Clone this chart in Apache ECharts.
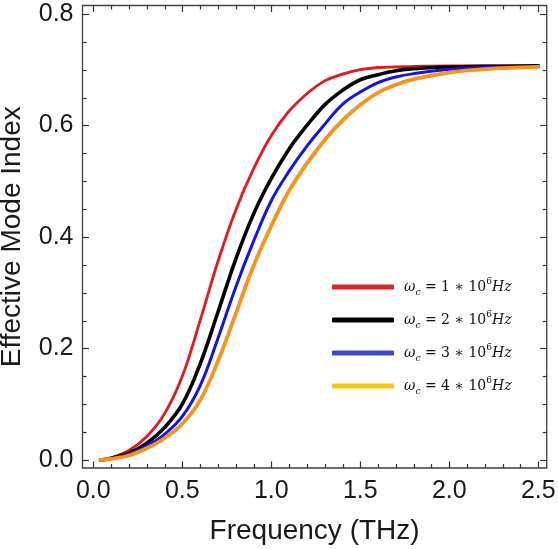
<!DOCTYPE html>
<html>
<head>
<meta charset="utf-8">
<script src="https://cdn.jsdelivr.net/npm/echarts@6/dist/echarts.min.js"></script>
<style>
html,body{margin:0;padding:0;background:#fff;}
#chart{width:558px;height:549px;}
</style>
</head>
<body>
<div id="chart"></div>
<script>
// ---- data ----
var freq  = [0.04,0.1,0.2,0.3,0.4,0.5,0.6,0.7,0.8,0.9,1.0,1.1,1.2,1.3,1.4,1.5,1.6,1.7,1.8,2.0,2.2,2.5];
var wc1   = [0.000,0.004,0.017,0.042,0.083,0.150,0.250,0.356,0.448,0.522,0.582,0.626,0.657,0.680,0.692,0.700,0.704,0.705,0.706,0.707,0.707,0.707];
var wc2   = [0.000,0.003,0.012,0.030,0.058,0.100,0.172,0.265,0.360,0.441,0.505,0.558,0.600,0.637,0.663,0.682,0.691,0.698,0.702,0.705,0.706,0.707];
var wc3   = [0.000,0.002,0.010,0.025,0.046,0.078,0.133,0.218,0.310,0.392,0.465,0.518,0.563,0.602,0.638,0.660,0.677,0.687,0.693,0.701,0.704,0.706];
var wc4   = [0.000,0.002,0.008,0.021,0.039,0.065,0.107,0.177,0.262,0.348,0.420,0.483,0.532,0.574,0.609,0.637,0.659,0.673,0.683,0.695,0.701,0.705];
var seriesNames = ['wc1','wc2','wc3','wc4'];
var legendDigits = ['1','2','3','4'];
var xTicks = [0,0.5,1.0,1.5,2.0,2.5];
var xTickLabels = ['0.0','0.5','1.0','1.5','2.0','2.5'];
var xMinorTicks = [0.1,0.2,0.3,0.4,0.6,0.7,0.8,0.9,1.1,1.2,1.3,1.4,1.6,1.7,1.8,1.9,2.1,2.2,2.3,2.4];
var yTicks = [0,0.2,0.4,0.6,0.8];
var yTickLabels = ['0.0','0.2','0.4','0.6','0.8'];
var yMinorTicks = [0.05,0.1,0.15,0.25,0.3,0.35,0.45,0.5,0.55,0.65,0.7,0.75];
var xRange = [-0.0607, 2.5472];
var yRange = [-0.0144, 0.8152];
var xTitle = 'Frequency (THz)';
var yTitle = 'Effective Mode Index';

function pairs(xs, ys){ return xs.map(function(x,i){ return [x, ys[i]]; }); }

var curveColors  = ['#e4191f','#000000','#1414e6','#f7931e'];
var legendColors = ['#d9262b','#000000','#3f48cc','#f5c71a'];
var widths = [2.8,3.6,3.0,3.8];
var values = [wc1,wc2,wc3,wc4];

// tick marks on the four frame sides: [side, value, major]; side 0=bottom,1=top,2=left,3=right
var tickData = [];
xTicks.forEach(function(v){ tickData.push([0,v,1]); tickData.push([1,v,1]); });
xMinorTicks.forEach(function(v){ tickData.push([0,v,0]); tickData.push([1,v,0]); });
yTicks.forEach(function(v){ tickData.push([2,v,1]); tickData.push([3,v,1]); });
yMinorTicks.forEach(function(v){ tickData.push([2,v,0]); tickData.push([3,v,0]); });

var chart = echarts.init(document.getElementById('chart'));

var tickFont = {fontFamily:'Liberation Sans', fontSize:25, color:'#1a1a1a'};
var tickColor = '#333333';

var series = seriesNames.map(function(n,i){
  return {
    name:n, type:'line', xAxisIndex:0, yAxisIndex:0,
    data:pairs(freq, values[i]),
    smooth:0.4, showSymbol:false, symbol:'none',
    color:curveColors[i],
    lineStyle:{color:curveColors[i], width:widths[i], cap:'round', join:'round'}
  };
});

series.push({
  type:'custom', xAxisIndex:0, yAxisIndex:0, silent:true, clip:false,
  data:tickData,
  renderItem:function(params, api){
    var side = api.value(0), v = api.value(1), major = api.value(2);
    var len = major ? 6.5 : 4;
    var p, x1, y1, x2, y2;
    if (side === 0) { p = api.coord([v, yRange[0]]); x1 = x2 = Math.round(p[0]) + 0.5; y1 = p[1]; y2 = p[1] - len; }
    else if (side === 1) { p = api.coord([v, yRange[1]]); x1 = x2 = Math.round(p[0]) + 0.5; y1 = p[1]; y2 = p[1] + len; }
    else if (side === 2) { p = api.coord([xRange[0], v]); y1 = y2 = Math.round(p[1]) + 0.5; x1 = p[0]; x2 = p[0] + len; }
    else { p = api.coord([xRange[1], v]); y1 = y2 = Math.round(p[1]) + 0.5; x1 = p[0]; x2 = p[0] - len; }
    return {type:'line', shape:{x1:x1, y1:y1, x2:x2, y2:y2}, style:{stroke:tickColor, lineWidth:1.2}};
  },
  z:20
});

var option = {
  animation:false,
  grid:[
    {left:82.5, right:11.3, top:5.5, bottom:81, outerBoundsMode:'none', show:true, borderColor:'#404040', borderWidth:1.3}
  ],
  xAxis:[{
    gridIndex:0, type:'value', position:'bottom', min:xRange[0], max:xRange[1],
    axisLine:{show:false, onZero:false}, axisTick:{show:false}, splitLine:{show:false},
    axisLabel:Object.assign({show:true, margin:11, customValues:xTicks, formatter:function(v){ var i=Math.round(v/0.5); return xTickLabels[i]||''; }}, tickFont),
    name:xTitle, nameLocation:'middle', nameGap:49,
    nameTextStyle:{fontFamily:'Liberation Sans', fontSize:28, color:'#1a1a1a'}
  }],
  yAxis:[{
    gridIndex:0, type:'value', position:'left', min:yRange[0], max:yRange[1],
    axisLine:{show:false, onZero:false}, axisTick:{show:false}, splitLine:{show:false},
    axisLabel:Object.assign({show:true, margin:9, customValues:yTicks, formatter:function(v){ var i=Math.round(v/0.2); return yTickLabels[i]||''; }}, tickFont),
    name:yTitle, nameLocation:'middle', nameGap:56, nameRotate:90,
    nameTextStyle:{fontFamily:'Liberation Sans', fontSize:28, color:'#1a1a1a'}
  }],
  legend:{
    orient:'vertical', left:332, top:277, padding:0, itemGap:13,
    itemWidth:62, itemHeight:5, icon:'roundRect', selectedMode:false,
    data:seriesNames.map(function(n,i){
      return {name:n, itemStyle:{color:legendColors[i], borderWidth:0}, lineStyle:{color:legendColors[i]}};
    }),
    formatter:function(name){
      var d = legendDigits[seriesNames.indexOf(name)];
      return '{w|ω}{sub|c}{n| = ' + d + ' ∗ 10}{sup|6}{w2|Hz}';
    },
    textStyle:{
      color:'#111',
      rich:{
        w:{fontFamily:'DejaVu Serif', fontStyle:'italic', fontSize:14, lineHeight:20, verticalAlign:'middle', color:'#111', padding:[0,0,0,5]},
        w2:{fontFamily:'DejaVu Serif', fontStyle:'italic', fontSize:14, lineHeight:20, verticalAlign:'middle', color:'#111'},
        sub:{fontFamily:'DejaVu Serif', fontStyle:'italic', fontSize:9, lineHeight:6, verticalAlign:'bottom', color:'#111'},
        n:{fontFamily:'DejaVu Serif', fontSize:14, lineHeight:20, verticalAlign:'middle', color:'#111'},
        sup:{fontFamily:'DejaVu Serif', fontSize:9, lineHeight:8, verticalAlign:'top', color:'#111'}
      }
    }
  },
  series:series
};
chart.setOption(option);
</script>
</body>
</html>
